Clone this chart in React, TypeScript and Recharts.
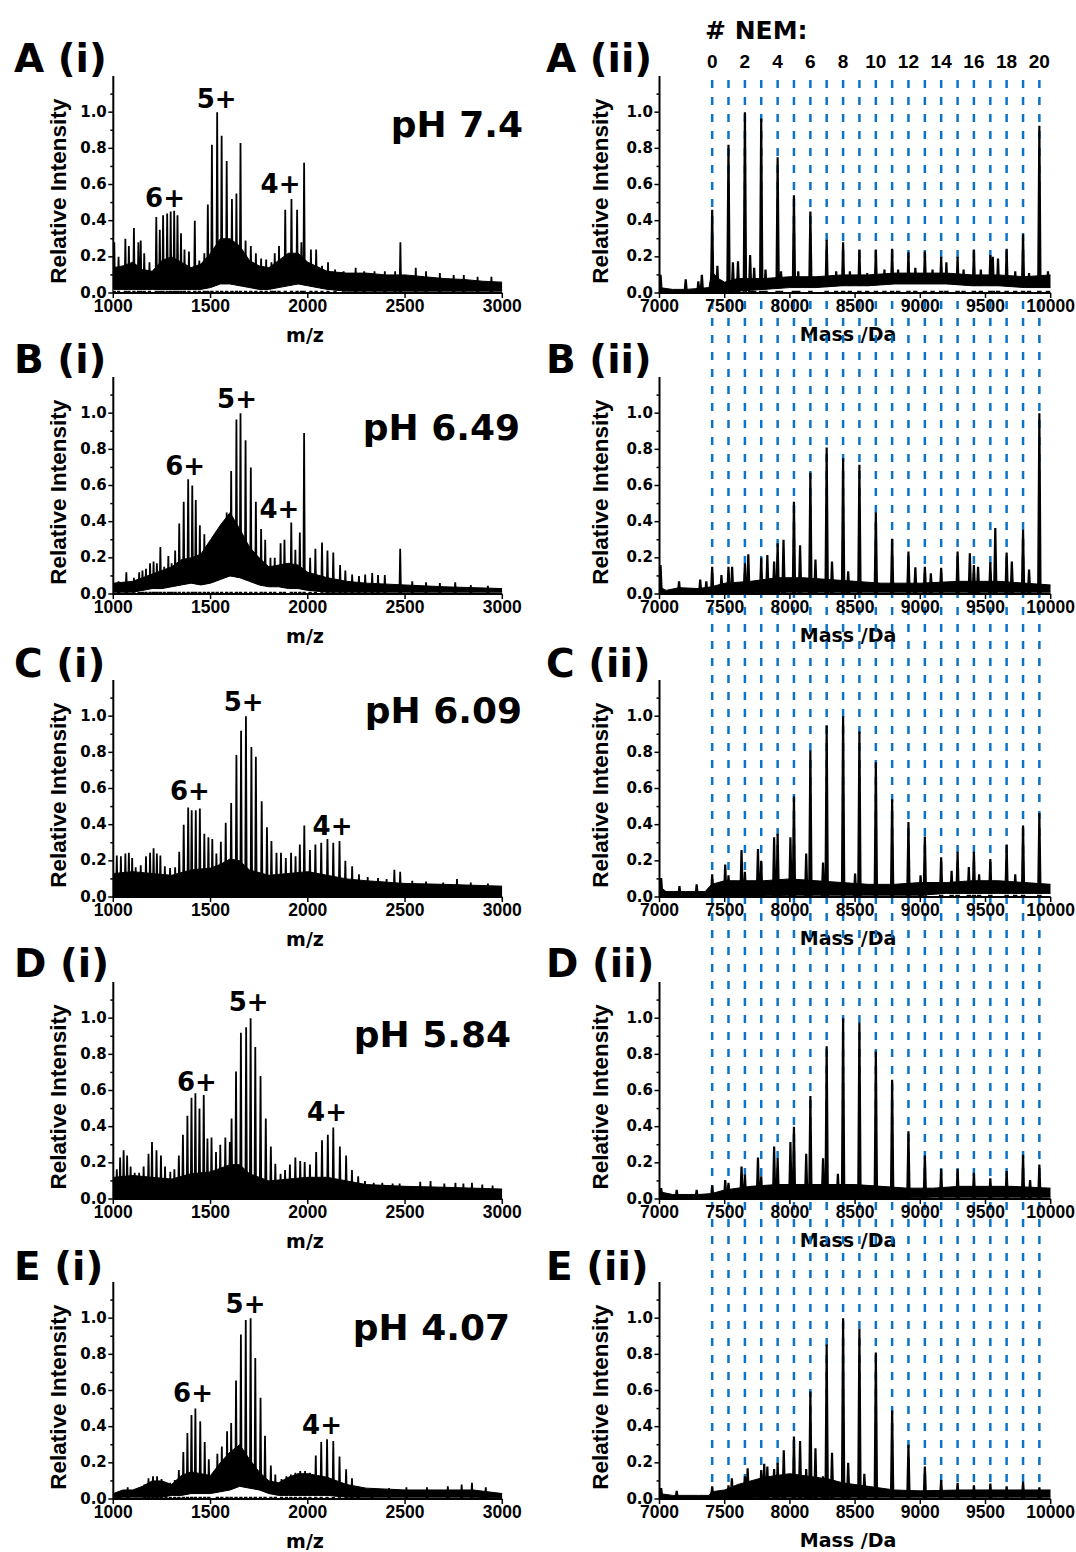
import React from "react";
import {
  Area,
  ComposedChart,
  Line,
  LineChart,
  ReferenceDot,
  ReferenceLine,
  XAxis,
  YAxis,
} from "recharts";

const DV = "'DejaVu Sans', Verdana, sans-serif";
const AR = "'Liberation Sans', Arial, sans-serif";
const BLUE = "#0b74c9";

// ---------- axes ----------
const mzTicks = [1000, 1500, 2000, 2500, 3000];
const massTicks = [7000, 7500, 8000, 8500, 9000, 9500, 10000];
const intensityTicks = [0, 0.1, 0.2, 0.3, 0.4, 0.5, 0.6, 0.7, 0.8, 0.9, 1.0, 1.1];

// mass of the protein carrying 0..20 NEM adducts (Da)
const nemMasses = [
  7404, 7529, 7655, 7780, 7906, 8031, 8157, 8282, 8408, 8533, 8659, 8784, 8909,
  9035, 9160, 9286, 9411, 9537, 9662, 9788, 9913,
];

// ---------- (i) m/z spectra: [m/z, intensity] peaks, [m/z, low, high] noise band ----------
const aMzPeaks = [
  [1005, 0.28], [1027, 0.2], [1062, 0.3], [1080, 0.26], [1106, 0.36], [1129, 0.28], [1141, 0.29],
  [1159, 0.22], [1186, 0.17], [1221, 0.42], [1239, 0.35], [1256, 0.43], [1277, 0.44], [1295, 0.45],
  [1313, 0.455], [1330, 0.43], [1348, 0.33], [1366, 0.24], [1389, 0.23], [1419, 0.4], [1442, 0.18],
  [1468, 0.22], [1486, 0.49], [1507, 0.82], [1534, 1.0], [1557, 0.87], [1583, 0.73], [1610, 0.52],
  [1633, 0.55], [1654, 0.83], [1680, 0.29], [1707, 0.26], [1733, 0.22], [1760, 0.19], [1786, 0.185],
  [1813, 0.17], [1830, 0.22], [1852, 0.26], [1884, 0.46], [1916, 0.52], [1945, 0.46], [1967, 0.28],
  [1981, 0.72], [2016, 0.24], [2043, 0.24], [2073, 0.15], [2104, 0.17], [2140, 0.13], [2184, 0.12],
  [2246, 0.14], [2290, 0.12], [2343, 0.12], [2396, 0.12], [2449, 0.12], [2476, 0.28], [2555, 0.14],
  [2608, 0.12], [2679, 0.11], [2750, 0.1], [2802, 0.1], [2873, 0.09], [2944, 0.09],
];
const aMzBand = [
  [1000, 0.02, 0.14], [1050, 0.02, 0.15], [1100, 0.02, 0.17], [1150, 0.02, 0.13], [1200, 0.02, 0.12],
  [1250, 0.02, 0.18], [1300, 0.02, 0.2], [1350, 0.02, 0.17], [1400, 0.02, 0.14], [1450, 0.02, 0.16],
  [1500, 0.03, 0.22], [1550, 0.05, 0.3], [1600, 0.05, 0.3], [1650, 0.04, 0.26], [1700, 0.03, 0.18],
  [1750, 0.02, 0.15], [1800, 0.02, 0.14], [1850, 0.03, 0.18], [1900, 0.04, 0.22], [1950, 0.05, 0.22],
  [2000, 0.04, 0.17], [2100, 0.02, 0.12], [2200, 0.01, 0.11], [2300, 0.01, 0.11], [2400, 0.01, 0.1],
  [2500, 0.01, 0.1], [2600, 0.01, 0.09], [2700, 0.01, 0.08], [2800, 0.01, 0.075], [2900, 0.01, 0.065],
  [3000, 0.01, 0.06],
];

const bMzPeaks = [
  [1027, 0.07], [1067, 0.12], [1106, 0.09], [1133, 0.12], [1150, 0.13], [1168, 0.14], [1189, 0.17],
  [1207, 0.18], [1224, 0.17], [1242, 0.26], [1262, 0.15], [1283, 0.21], [1300, 0.17], [1318, 0.24],
  [1339, 0.39], [1362, 0.51], [1385, 0.635], [1406, 0.6], [1424, 0.52], [1445, 0.38], [1468, 0.33],
  [1489, 0.26], [1512, 0.22], [1534, 0.27], [1557, 0.35], [1583, 0.45], [1606, 0.68], [1633, 0.965],
  [1654, 1.0], [1680, 0.85], [1707, 0.7], [1733, 0.51], [1760, 0.36], [1781, 0.3], [1808, 0.2],
  [1830, 0.2], [1860, 0.28], [1880, 0.3], [1915, 0.395], [1936, 0.245], [1959, 0.34], [1981, 0.89],
  [2012, 0.2], [2039, 0.25], [2073, 0.285], [2101, 0.24], [2131, 0.23], [2166, 0.16], [2193, 0.13],
  [2228, 0.107], [2263, 0.1], [2295, 0.107], [2331, 0.116], [2361, 0.105], [2396, 0.105], [2475, 0.25],
  [2537, 0.07], [2608, 0.065], [2679, 0.06], [2758, 0.065], [2838, 0.05], [2926, 0.045],
];
const bMzBand = [
  [1000, 0.01, 0.06], [1100, 0.01, 0.07], [1150, 0.02, 0.09], [1200, 0.03, 0.11], [1250, 0.03, 0.13],
  [1300, 0.04, 0.15], [1350, 0.05, 0.19], [1400, 0.06, 0.2], [1450, 0.05, 0.22], [1500, 0.06, 0.3],
  [1550, 0.08, 0.38], [1600, 0.1, 0.45], [1650, 0.09, 0.36], [1700, 0.07, 0.26], [1750, 0.05, 0.2],
  [1800, 0.04, 0.15], [1850, 0.04, 0.16], [1900, 0.03, 0.17], [1950, 0.03, 0.16], [2000, 0.02, 0.12],
  [2100, 0.01, 0.09], [2200, 0.01, 0.07], [2300, 0.01, 0.06], [2500, 0.01, 0.05], [2700, 0.01, 0.04],
  [3000, 0.01, 0.03],
];

const cMzPeaks = [
  [1018, 0.23], [1039, 0.225], [1062, 0.24], [1080, 0.245], [1097, 0.215], [1115, 0.165], [1141, 0.175],
  [1168, 0.225], [1189, 0.245], [1207, 0.27], [1224, 0.24], [1242, 0.23], [1265, 0.17], [1292, 0.16],
  [1318, 0.165], [1339, 0.25], [1362, 0.4], [1385, 0.495], [1403, 0.48], [1424, 0.48], [1445, 0.49],
  [1468, 0.35], [1489, 0.33], [1509, 0.32], [1530, 0.24], [1553, 0.305], [1578, 0.41], [1606, 0.52],
  [1633, 0.785], [1657, 0.92], [1682, 1.0], [1710, 0.83], [1733, 0.775], [1763, 0.53], [1790, 0.385],
  [1813, 0.31], [1839, 0.245], [1862, 0.245], [1887, 0.215], [1914, 0.245], [1937, 0.225], [1959, 0.29],
  [1982, 0.395], [2011, 0.26], [2039, 0.29], [2069, 0.3], [2101, 0.32], [2131, 0.3], [2163, 0.31],
  [2193, 0.2], [2228, 0.17], [2263, 0.125], [2308, 0.11], [2361, 0.105], [2405, 0.1], [2445, 0.15],
  [2475, 0.14], [2537, 0.09], [2608, 0.085], [2696, 0.08], [2767, 0.1], [2838, 0.08], [2926, 0.075],
];
const cMzBand = [
  [1000, 0.003, 0.13], [1100, 0.003, 0.14], [1200, 0.003, 0.13], [1300, 0.003, 0.12], [1400, 0.003, 0.15],
  [1500, 0.003, 0.16], [1550, 0.003, 0.18], [1600, 0.003, 0.21], [1650, 0.003, 0.2], [1700, 0.003, 0.15],
  [1800, 0.003, 0.12], [1900, 0.003, 0.13], [2000, 0.003, 0.14], [2100, 0.003, 0.12], [2200, 0.003, 0.1],
  [2300, 0.003, 0.09], [2500, 0.003, 0.075], [2700, 0.003, 0.07], [3000, 0.003, 0.06],
];

const dMzPeaks = [
  [1018, 0.165], [1035, 0.23], [1053, 0.27], [1071, 0.24], [1089, 0.18], [1110, 0.145], [1133, 0.145],
  [1156, 0.18], [1181, 0.25], [1199, 0.315], [1222, 0.27], [1245, 0.24], [1266, 0.18], [1293, 0.15],
  [1314, 0.165], [1337, 0.24], [1358, 0.355], [1381, 0.46], [1402, 0.56], [1422, 0.585], [1443, 0.5],
  [1465, 0.575], [1484, 0.335], [1505, 0.34], [1528, 0.26], [1550, 0.3], [1576, 0.34], [1599, 0.315],
  [1608, 0.445], [1631, 0.705], [1656, 0.92], [1683, 0.95], [1706, 1.0], [1730, 0.84], [1757, 0.68],
  [1784, 0.445], [1810, 0.29], [1833, 0.195], [1860, 0.14], [1883, 0.16], [1908, 0.19], [1936, 0.23],
  [1961, 0.21], [1984, 0.205], [2011, 0.19], [2043, 0.26], [2073, 0.325], [2103, 0.355], [2131, 0.395],
  [2165, 0.29], [2197, 0.24], [2227, 0.16], [2259, 0.125], [2294, 0.1], [2339, 0.09], [2383, 0.09],
  [2436, 0.085], [2472, 0.085], [2578, 0.095], [2631, 0.1], [2702, 0.085], [2759, 0.09], [2800, 0.085],
  [2844, 0.09], [2897, 0.08], [2950, 0.075],
];
const dMzBand = [
  [1000, 0.003, 0.12], [1100, 0.003, 0.13], [1200, 0.003, 0.12], [1300, 0.003, 0.11], [1400, 0.003, 0.14],
  [1500, 0.003, 0.15], [1600, 0.003, 0.19], [1650, 0.003, 0.19], [1700, 0.003, 0.14], [1800, 0.003, 0.1],
  [1900, 0.003, 0.11], [2000, 0.003, 0.12], [2100, 0.003, 0.12], [2200, 0.003, 0.1], [2300, 0.003, 0.08],
  [2500, 0.003, 0.07], [2700, 0.003, 0.065], [3000, 0.003, 0.055],
];

const eMzPeaks = [
  [1027, 0.04], [1074, 0.065], [1160, 0.08], [1181, 0.115], [1204, 0.125], [1225, 0.125], [1248, 0.11],
  [1271, 0.09], [1293, 0.09], [1316, 0.105], [1337, 0.16], [1360, 0.26], [1381, 0.365], [1402, 0.465],
  [1422, 0.5], [1447, 0.43], [1470, 0.315], [1491, 0.22], [1535, 0.25], [1558, 0.29], [1585, 0.375],
  [1606, 0.42], [1631, 0.655], [1656, 0.91], [1681, 0.99], [1706, 1.0], [1730, 0.78], [1757, 0.56],
  [1780, 0.35], [1810, 0.185], [1833, 0.135], [1865, 0.11], [1890, 0.125], [1913, 0.135], [1936, 0.145],
  [1961, 0.155], [1986, 0.155], [2011, 0.145], [2041, 0.24], [2069, 0.315], [2099, 0.33], [2131, 0.32],
  [2163, 0.235], [2197, 0.165], [2227, 0.115], [2259, 0.07], [2330, 0.06], [2418, 0.06], [2507, 0.065],
  [2613, 0.065], [2720, 0.07], [2791, 0.08], [2844, 0.09], [2915, 0.065],
];
const eMzBand = [
  [1000, 0.005, 0.03], [1050, 0.01, 0.05], [1100, 0.01, 0.05], [1150, 0.01, 0.07], [1200, 0.01, 0.1],
  [1250, 0.01, 0.1], [1300, 0.02, 0.08], [1350, 0.02, 0.13], [1400, 0.03, 0.15], [1450, 0.03, 0.14],
  [1500, 0.03, 0.13], [1550, 0.04, 0.2], [1600, 0.05, 0.26], [1650, 0.07, 0.3], [1700, 0.06, 0.22],
  [1750, 0.05, 0.15], [1800, 0.03, 0.1], [1850, 0.02, 0.09], [1900, 0.02, 0.12], [1950, 0.02, 0.14],
  [2000, 0.02, 0.14], [2050, 0.02, 0.13], [2100, 0.02, 0.12], [2200, 0.01, 0.08], [2300, 0.01, 0.06],
  [2500, 0.01, 0.05], [2700, 0.01, 0.05], [2850, 0.01, 0.05], [3000, 0.005, 0.03],
];

// charge state annotations: [label, m/z, intensity] (centre of the text)
const aCharges = [["6+", 1266, 0.528], ["5+", 1531, 1.076], ["4+", 1860, 0.606]];
const bCharges = [["6+", 1369, 0.71], ["5+", 1636, 1.08], ["4+", 1854, 0.474]];
const cCharges = [["6+", 1394, 0.585], ["5+", 1670, 1.079], ["4+", 2127, 0.395]];
const dCharges = [["6+", 1430, 0.647], ["5+", 1696, 1.093], ["4+", 2099, 0.485]];
const eCharges = [["6+", 1410, 0.587], ["5+", 1680, 1.079], ["4+", 2073, 0.413]];

// ---------- (ii) deconvoluted spectra ----------
// intensity at each NEM adduct mass (0..20)
const aNemHeights = [0.46, 0.82, 1.0, 0.965, 0.75, 0.54, 0.45, 0.295, 0.28, 0.24, 0.24, 0.245, 0.225, 0.23, 0.2, 0.2, 0.24, 0.21, 0.245, 0.325, 0.925];
const bNemHeights = [0.15, 0.15, 0.17, 0.2, 0.28, 0.51, 0.67, 0.81, 0.75, 0.715, 0.45, 0.305, 0.235, 0.15, 0.145, 0.235, 0.16, 0.175, 0.23, 0.355, 1.0];
const cNemHeights = [0.125, 0.12, 0.14, 0.2, 0.35, 0.555, 0.81, 0.95, 1.0, 0.915, 0.745, 0.54, 0.415, 0.335, 0.22, 0.25, 0.25, 0.21, 0.29, 0.395, 0.465];
const dNemHeights = [0.075, 0.09, 0.135, 0.125, 0.225, 0.4, 0.57, 0.845, 1.0, 0.975, 0.815, 0.66, 0.375, 0.24, 0.165, 0.165, 0.145, 0.115, 0.155, 0.245, 0.19];
const eNemHeights = [0.07, 0.075, 0.125, 0.16, 0.2, 0.345, 0.595, 0.855, 1.0, 0.94, 0.81, 0.49, 0.3, 0.18, 0.105, 0.09, 0.075, 0.085, 0.07, 0.095, 0.065];

// other peaks: [mass, intensity]
const aMassExtra = [
  [7008, 0.1], [7201, 0.075], [7298, 0.065], [7325, 0.1], [7444, 0.15], [7563, 0.17], [7602, 0.175],
  [7695, 0.21], [7726, 0.14], [7813, 0.13], [7932, 0.12], [8064, 0.12], [8355, 0.12], [8460, 0.12],
  [8593, 0.11], [8725, 0.13], [8830, 0.13], [8962, 0.14], [9094, 0.13], [9200, 0.17], [9332, 0.13],
  [9464, 0.13], [9556, 0.2], [9596, 0.19], [9728, 0.12], [9834, 0.11], [9979, 0.12],
];
const bMassExtra = [
  [7008, 0.16], [7150, 0.07], [7312, 0.08], [7359, 0.07], [7475, 0.105], [7557, 0.15], [7681, 0.22],
  [7827, 0.215], [7879, 0.18], [7951, 0.3], [8078, 0.27], [8196, 0.19], [8323, 0.18], [8447, 0.125],
  [8962, 0.148], [9081, 0.115], [9380, 0.225], [9443, 0.15], [9575, 0.365], [9702, 0.18], [9834, 0.135],
];
const cMassExtra = [
  [7013, 0.105], [7153, 0.06], [7285, 0.07], [7504, 0.18], [7629, 0.26], [7755, 0.265], [7879, 0.33],
  [8004, 0.33], [8125, 0.24], [8254, 0.19], [8500, 0.13], [9002, 0.12], [9240, 0.145], [9372, 0.165],
  [9451, 0.125], [9728, 0.125],
];
const dMassExtra = [
  [7013, 0.06], [7132, 0.05], [7285, 0.05], [7504, 0.105], [7629, 0.18], [7755, 0.23], [7879, 0.29],
  [8004, 0.315], [8125, 0.25], [8254, 0.225], [8368, 0.14], [9842, 0.105],
];
const eMassExtra = [
  [7013, 0.06], [7132, 0.045], [7555, 0.115], [7676, 0.17], [7803, 0.195], [7827, 0.18], [7879, 0.165],
  [7953, 0.27], [8078, 0.32], [8125, 0.165], [8196, 0.28], [8254, 0.125], [8323, 0.255], [8447, 0.2],
  [8571, 0.14],
];

const aMassBand = [
  [7000, 0, 0.03], [7100, 0, 0.02], [7200, 0, 0.02], [7300, 0, 0.025], [7380, 0, 0.03], [7400, 0.005, 0.12],
  [7450, 0.005, 0.08], [7500, 0.005, 0.06], [7600, 0.01, 0.08], [7800, 0.02, 0.08], [8000, 0.03, 0.09],
  [8200, 0.03, 0.09], [8400, 0.04, 0.1], [8600, 0.04, 0.1], [8800, 0.05, 0.11], [9000, 0.05, 0.11],
  [9200, 0.05, 0.11], [9400, 0.04, 0.1], [9600, 0.04, 0.1], [9800, 0.03, 0.09], [10000, 0.03, 0.1],
];
const bMassBand = [
  [7000, 0, 0.04], [7050, 0, 0.02], [7150, 0, 0.035], [7300, 0, 0.03], [7400, 0, 0.04], [7500, 0.005, 0.06],
  [7700, 0.005, 0.07], [7900, 0.01, 0.09], [8100, 0.01, 0.09], [8300, 0.01, 0.08], [8500, 0.01, 0.07],
  [8700, 0.01, 0.06], [9000, 0.01, 0.06], [9300, 0.01, 0.07], [9600, 0.01, 0.07], [9800, 0.01, 0.06],
  [10000, 0.01, 0.05],
];
const cMassBand = [
  [7000, 0, 0.06], [7050, 0, 0.03], [7200, 0, 0.03], [7350, 0, 0.03], [7400, 0, 0.07], [7500, 0, 0.09],
  [7600, 0.005, 0.09], [7800, 0.005, 0.09], [8000, 0.01, 0.1], [8200, 0.01, 0.09], [8400, 0.01, 0.08],
  [8600, 0.01, 0.07], [8800, 0.01, 0.07], [9000, 0.01, 0.08], [9200, 0.02, 0.08], [9400, 0.02, 0.09],
  [9600, 0.02, 0.09], [9800, 0.02, 0.08], [10000, 0.02, 0.07],
];
const dMassBand = [
  [7000, 0, 0.04], [7100, 0, 0.025], [7300, 0, 0.025], [7400, 0, 0.03], [7500, 0, 0.05], [7700, 0, 0.07],
  [7900, 0.005, 0.08], [8100, 0.005, 0.08], [8300, 0.005, 0.08], [8500, 0.005, 0.08], [8700, 0.005, 0.07],
  [8900, 0.005, 0.06], [9100, 0.01, 0.06], [9300, 0.01, 0.07], [9500, 0.01, 0.07], [9700, 0.01, 0.07],
  [10000, 0.01, 0.06],
];
const eMassBand = [
  [7000, 0, 0.03], [7100, 0, 0.02], [7300, 0, 0.02], [7380, 0, 0.02], [7400, 0, 0.04], [7500, 0.005, 0.05],
  [7600, 0.005, 0.08], [7700, 0.005, 0.1], [7800, 0.01, 0.12], [7900, 0.01, 0.13], [8000, 0.01, 0.14],
  [8100, 0.01, 0.13], [8200, 0.01, 0.12], [8300, 0.01, 0.11], [8400, 0.01, 0.09], [8500, 0.01, 0.08],
  [8600, 0.01, 0.07], [8800, 0.01, 0.05], [9000, 0.01, 0.045], [9300, 0.01, 0.05], [9600, 0.01, 0.05],
  [10000, 0.01, 0.05],
];

const panels = [
  { letter: "A", ph: "pH 7.4", mzPeaks: aMzPeaks, mzBand: aMzBand, charges: aCharges, nem: aNemHeights, extra: aMassExtra, massBand: aMassBand },
  { letter: "B", ph: "pH 6.49", mzPeaks: bMzPeaks, mzBand: bMzBand, charges: bCharges, nem: bNemHeights, extra: bMassExtra, massBand: bMassBand },
  { letter: "C", ph: "pH 6.09", mzPeaks: cMzPeaks, mzBand: cMzBand, charges: cCharges, nem: cNemHeights, extra: cMassExtra, massBand: cMassBand },
  { letter: "D", ph: "pH 5.84", mzPeaks: dMzPeaks, mzBand: dMzBand, charges: dCharges, nem: dNemHeights, extra: dMassExtra, massBand: dMassBand },
  { letter: "E", ph: "pH 4.07", mzPeaks: eMzPeaks, mzBand: eMzBand, charges: eCharges, nem: eNemHeights, extra: eMassExtra, massBand: eMassBand },
];

// ---------- layout (page pixels) ----------
const ZERO_Y = [293.3, 594.3, 897.3, 1199, 1499.3];
const LABEL_Y = [71.7, 373.3, 676.7, 976.7, 1280];
const PH_POS = [[523, 137], [520, 440], [522, 723.3], [511, 1046.7], [510, 1340]];
const PLOT_H = 217;
const LEFT_PLOT = [113.3, 502.3];
const RIGHT_PLOT = [659.5, 1050.7];
const GAP_FLOOR = 0.012;

function YTick(props: any) {
  const { x, y, payload } = props;
  const v = payload.value;
  const major = Math.round(v * 10) % 2 === 0 && v <= 1.0001;
  return (
    <g>
      <line x1={x} x2={x - (major ? 5 : 3)} y1={y} y2={y} stroke="#000" strokeWidth={1.5} />
      {major && (
        <text x={x - 6.5} y={y} dy="0.3em" textAnchor="end" fontFamily={DV} fontWeight={700} fontSize={15} fill="#000">
          {v.toFixed(1)}
        </text>
      )}
    </g>
  );
}

function XTick(props: any) {
  const { x, y, payload } = props;
  return (
    <g>
      <line x1={x} x2={x} y1={y} y2={y + 5} stroke="#000" strokeWidth={1.5} />
      <text x={x} y={y + 18.5} textAnchor="middle" fontFamily={AR} fontWeight={700} fontSize={17.5} fill="#000">
        {payload.value}
      </text>
    </g>
  );
}

interface SpectrumProps {
  left: number;
  width: number;
  plot: number[];
  zeroY: number;
  domain: [number, number];
  ticks: number[];
  band: number[][];
  peaks: number[][];
  halfWidth: number;
  lineWidth: number;
  charges?: (string | number)[][];
}

const Y_W = 50;
const X_H = 30;
const CHART_H = 300;

function Spectrum({ left, width, plot, zeroY, domain, ticks, band, peaks, halfWidth, lineWidth, charges }: SpectrumProps) {
  const top = zeroY - PLOT_H - 40;
  const margin = {
    top: 40,
    left: plot[0] - left - Y_W,
    right: left + width - plot[1],
    bottom: CHART_H - 40 - PLOT_H - X_H,
  };
  const bandRows = band.map(([x, lo, hi]) => ({
    x,
    band: [lo, hi],
    gap: lo > GAP_FLOOR ? [GAP_FLOOR, lo] : [lo, lo],
  }));
  const spikeRows = [...peaks]
    .sort((p, q) => p[0] - q[0])
    .flatMap(([x, h]) => [
      { x: x - halfWidth, s: 0 },
      { x, s: h },
      { x: x + halfWidth, s: 0 },
    ]);

  // peaks are drawn first; the noise band (with its white floor) is a second chart laid on top
  return (
    <div style={{ position: "absolute", left, top, width, height: CHART_H }}>
      <div style={{ position: "absolute", left: 0, top: 0 }}>
        <ComposedChart width={width} height={CHART_H} data={bandRows} margin={margin}>
          <XAxis
            type="number"
            dataKey="x"
            domain={domain}
            ticks={ticks}
            interval={0}
            allowDataOverflow
            height={X_H}
            tickSize={0}
            tickMargin={0}
            tickLine={false}
            tick={XTick}
            axisLine={{ stroke: "#000", strokeWidth: 2 }}
          />
          <YAxis
            type="number"
            domain={[0, 1.2]}
            ticks={intensityTicks}
            interval={0}
            allowDataOverflow
            width={Y_W}
            tickSize={0}
            tickMargin={0}
            tickLine={false}
            tick={YTick}
            axisLine={{ stroke: "#000", strokeWidth: 2 }}
          />
          <Line
            data={spikeRows}
            dataKey="s"
            type="linear"
            stroke="#000"
            strokeWidth={lineWidth}
            dot={false}
            activeDot={false}
            isAnimationActive={false}
          />
        </ComposedChart>
      </div>
      <div style={{ position: "absolute", left: 0, top: 0 }}>
        <ComposedChart width={width} height={CHART_H} data={bandRows} margin={margin}>
          <XAxis type="number" dataKey="x" domain={domain} allowDataOverflow height={X_H} tick={false} tickLine={false} axisLine={false} />
          <YAxis type="number" domain={[0, 1.2]} allowDataOverflow width={Y_W} tick={false} tickLine={false} axisLine={false} />
          <Area dataKey="gap" type="linear" fill="#fff" fillOpacity={1} stroke="none" isAnimationActive={false} />
          <Area dataKey="band" type="linear" fill="#000" fillOpacity={1} stroke="#000" strokeWidth={1} isAnimationActive={false} />
          {charges?.map(([label, x, y]) => (
            <ReferenceDot
              key={String(label)}
              x={x as number}
              y={y as number}
              r={1}
              fill="none"
              stroke="none"
              label={{ value: label, position: "center", fill: "#000", fontSize: 26, fontWeight: 700, fontFamily: DV }}
            />
          ))}
        </ComposedChart>
      </div>
    </div>
  );
}

function NemOverlay() {
  const rows = nemMasses.map((x) => ({ x, y: 0 }));
  return (
    <div style={{ position: "absolute", left: 600, top: 0 }}>
      <LineChart width={476} height={1552} data={rows} margin={{ top: 76, left: RIGHT_PLOT[0] - 600, right: 1076 - RIGHT_PLOT[1], bottom: 1552 - 1499 }}>
        <XAxis type="number" dataKey="x" domain={[7000, 10000]} allowDataOverflow hide />
        <YAxis type="number" domain={[0, 1]} hide />
        <Line dataKey="y" stroke="none" dot={false} activeDot={false} isAnimationActive={false} />
        {nemMasses.map((m, i) => (
          <ReferenceLine
            key={m}
            x={m}
            stroke={BLUE}
            strokeWidth={2.5}
            strokeDasharray="8 9"
            label={
              i % 2 === 0
                ? { value: String(i), position: "top", offset: 8, fill: "#000", fontSize: 19, fontWeight: 700, fontFamily: AR }
                : undefined
            }
          />
        ))}
      </LineChart>
    </div>
  );
}

export default function App() {
  const bold = { fontFamily: DV, fontWeight: 700, fill: "#000" } as const;
  return (
    <div style={{ position: "absolute", left: 0, top: 0, width: 1076, height: 1552, background: "#fff", overflow: "hidden" }}>
      <svg width={1076} height={1552} style={{ position: "absolute", left: 0, top: 0 }}>
        <text x={705} y={39.3} fontSize={25} {...bold}># NEM:</text>
        {panels.map((p, i) => (
          <g key={p.letter}>
            <text x={14} y={LABEL_Y[i]} fontSize={39} {...bold}>{`${p.letter} (i)`}</text>
            <text x={546} y={LABEL_Y[i]} fontSize={39} {...bold}>{`${p.letter} (ii)`}</text>
            <text x={PH_POS[i][0]} y={PH_POS[i][1]} fontSize={36} textAnchor="end" {...bold}>{p.ph}</text>
            <text x={305} y={ZERO_Y[i] + 48.5} fontSize={19} textAnchor="middle" {...bold}>m/z</text>
            <text x={848} y={ZERO_Y[i] + 48} fontSize={19} textAnchor="middle" {...bold}>Mass /Da</text>
            <text transform={`translate(66 ${ZERO_Y[i] - 102}) rotate(-90)`} textAnchor="middle" fontFamily={AR} fontWeight={700} fontSize={22.5} fill="#000">
              Relative Intensity
            </text>
            <text transform={`translate(608 ${ZERO_Y[i] - 102}) rotate(-90)`} textAnchor="middle" fontFamily={AR} fontWeight={700} fontSize={22.5} fill="#000">
              Relative Intensity
            </text>
          </g>
        ))}
      </svg>
      <NemOverlay />
      {panels.map((p, i) => (
        <React.Fragment key={p.letter}>
          <Spectrum
            left={0}
            width={540}
            plot={LEFT_PLOT}
            zeroY={ZERO_Y[i]}
            domain={[1000, 3000]}
            ticks={mzTicks}
            band={p.mzBand}
            peaks={p.mzPeaks}
            halfWidth={4}
            lineWidth={1.8}
            charges={p.charges}
          />
          <Spectrum
            left={560}
            width={516}
            plot={RIGHT_PLOT}
            zeroY={ZERO_Y[i]}
            domain={[7000, 10000]}
            ticks={massTicks}
            band={p.massBand}
            peaks={[...nemMasses.map((m, k) => [m, p.nem[k]]), ...p.extra]}
            halfWidth={9}
            lineWidth={2.2}
          />
        </React.Fragment>
      ))}
    </div>
  );
}
